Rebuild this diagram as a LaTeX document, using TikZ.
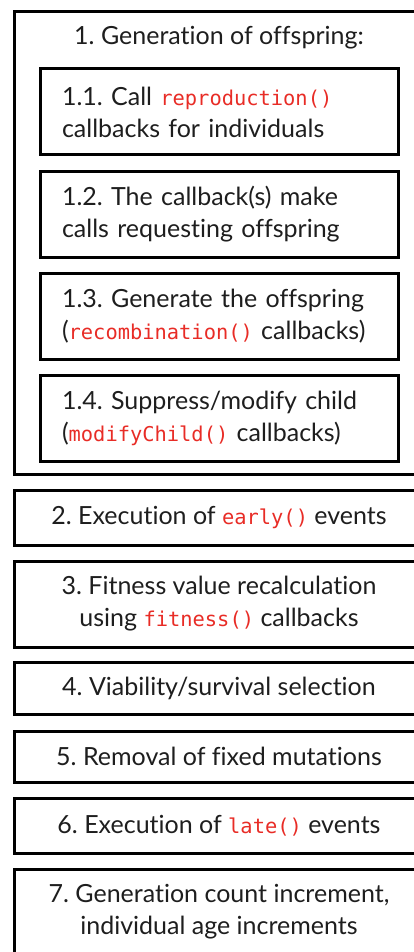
\documentclass[tikz,border=0pt]{standalone}
\usepackage{fontspec}
\setmainfont{Lato}[Ligatures=NoCommon]
\setmonofont{DejaVu Sans Mono}
\usepackage{tikz}
\frenchspacing

\definecolor{codered}{RGB}{232,44,38}
\definecolor{inkgray}{RGB}{30,30,30}
\newcommand{\callname}[1]{{\ttfamily\fontsize{10.2}{16}\selectfont\color{codered}#1}}

\tikzset{
  stepbox/.style={draw, line width=1.5pt, minimum width=205pt, inner sep=0pt,
    align=center, text=inkgray, font=\fontsize{12.5}{16}\selectfont},
  subbox/.style={draw, line width=1.5pt, text width=157pt, inner xsep=11pt,
    minimum height=43pt, align=left, text=inkgray, font=\fontsize{12.5}{16}\selectfont}
}

\begin{document}
\begin{tikzpicture}[x=0.5pt, y=-0.5pt]
    \useasboundingbox (0,0) rectangle (413,952);

    % 1. Riquadro esterno (generazione della prole)
    \node[stepbox, minimum height=231pt] (gen) at (219,243) {};
    \node[text=inkgray, font=\fontsize{12.5}{16}\selectfont, anchor=base] (gentitle) at (219,45) {1. Generation of offspring:};

    % sotto-passi 1.1 - 1.4
    \node[subbox] (repro) at (219,112) {1.1. Call \callname{reproduction()}\\callbacks for individuals};
    \node[subbox] (request) at (219,214.5) {1.2. The callback(s) make\\calls requesting offspring};
    \node[subbox] (recomb) at (219,316) {1.3. Generate the offspring\\(\callname{recombination()} callbacks)};
    \node[subbox] (modify) at (219,418) {1.4. Suppress/modify child\\(\callname{modifyChild()} callbacks)};

    % 2. - 7. passi successivi
    \node[stepbox, minimum height=27.5pt] (early) at (219,517.5) {2. Execution of \callname{early()} events};
    \node[stepbox, minimum height=43pt] (fitness) at (219,604) {3. Fitness value recalculation\\using \callname{fitness()} callbacks};
    \node[stepbox, minimum height=26pt] (survival) at (219,688) {4. Viability/survival selection};
    \node[stepbox, minimum height=25.5pt] (fixed) at (219,756.5) {5. Removal of fixed mutations};
    \node[stepbox, minimum height=27.5pt] (late) at (219,825.5) {6. Execution of \callname{late()} events};
    \node[stepbox, minimum height=43pt] (age) at (219,912) {7. Generation count increment,\\individual age increments};

\end{tikzpicture}
\end{document}
